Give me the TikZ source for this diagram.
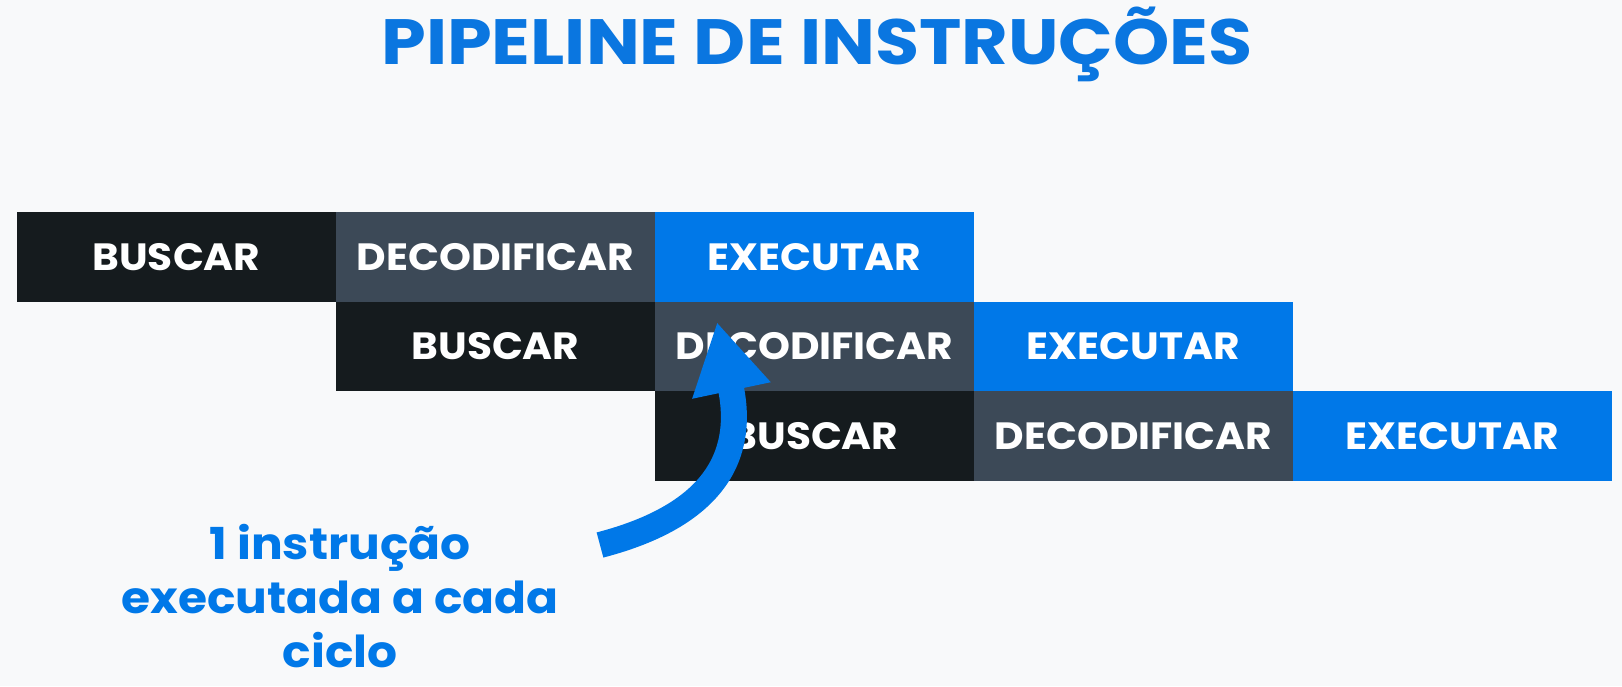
\documentclass[tikz,border=0pt]{standalone}
\usepackage{fontspec}
\setmainfont{Poppins}[FakeStretch=1.07]
\newfontfamily\headfont{Poppins}[FakeStretch=1.12]
\usetikzlibrary{arrows.meta,positioning}
\definecolor{bg}{HTML}{F8F9FA}
\definecolor{headc}{HTML}{0A76E0}
\definecolor{accent}{HTML}{0078E8}
\definecolor{ink}{HTML}{151B1E}
\definecolor{slate}{HTML}{3C4957}
\tikzset{
  cell/.style={minimum width=159.5pt,minimum height=44.75pt,inner sep=0pt,outer sep=0pt,text=white,font=\fontsize{19}{22}\selectfont\bfseries},
  fetch/.style={cell,fill=ink},
  decode/.style={cell,fill=slate},
  exec/.style={cell,fill=accent},
  headline/.style={text=headc,font=\headfont\fontsize{32}{38}\selectfont\bfseries,inner sep=0pt},
  note/.style={text=accent,align=center,font=\fontsize{22}{27}\selectfont\bfseries,inner sep=0pt},
  bigarrow/.style={-{Triangle[length=35pt,width=37.5pt]},line width=13pt,draw=accent}
}

\begin{document}
\begin{tikzpicture}[x=0.5pt,y=-0.5pt]
  \fill[bg] (0,0) rectangle (1622,686);
  \useasboundingbox (0,0) rectangle (1622,686);
  \node[headline, anchor=base] (title) at (817,64) {PIPELINE DE INSTRUÇÕES};
  % row 1
  \node[fetch] (b1) at (176.5,257) {BUSCAR};
  \node[decode, right=0pt of b1] (d1) {DECODIFICAR};
  \node[exec, right=0pt of d1] (e1) {EXECUTAR};
  % row 2
  \node[fetch, below=0pt of d1] (b2) {BUSCAR};
  \node[decode, right=0pt of b2] (d2) {DECODIFICAR};
  \node[exec, right=0pt of d2] (e2) {EXECUTAR};
  % row 3
  \node[fetch, below=0pt of d2] (b3) {BUSCAR};
  \node[decode, right=0pt of b3] (d3) {DECODIFICAR};
  \node[exec, right=0pt of d3] (e3) {EXECUTAR};
  % note and arrow
  \node[note, anchor=base] (msg) at (340,667) {1 instrução\\executada a cada\\ciclo};
  \coordinate (tail) at (600,545);
  \coordinate (tip) at (717,322);
  \draw[bigarrow] (tail) .. controls (715,515) and (745,455) .. (tip);
\end{tikzpicture}
\end{document}
